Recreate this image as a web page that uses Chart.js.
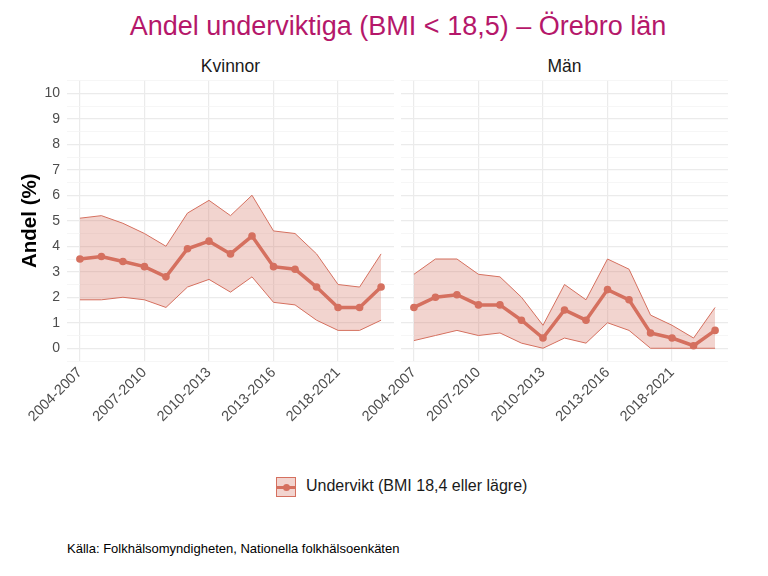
<!DOCTYPE html>
<html>
<head>
<meta charset="utf-8">
<script src="https://cdn.jsdelivr.net/npm/chart.js@4"></script>
<style>
    body { margin: 0; background: #fff; font-family: "Liberation Sans", Arial, sans-serif; }
    #wrap { position: relative; width: 768px; height: 576px; overflow: hidden; }
    .txt { position: absolute; white-space: nowrap; }
    #titel { left: 0; width: 796px; top: 11px; text-align: center; font-size: 27px; color: #B5176A; }
    .facett { top: 56px; font-size: 17.5px; color: #1a1a1a; text-align: center; }
    #legend { left: 276px; top: 477px; font-size: 16px; color: #1a1a1a; }
    #nyckel { position: absolute; left: 0; top: 0; width: 20px; height: 20px; box-sizing: border-box;
              border: 1px solid #D5705F; background: rgba(213,112,95,0.3); }
    #nyckel .linje { position: absolute; left: 0; right: 0; top: 7.5px; height: 3px; background: #D5705F; }
    #nyckel .punkt { position: absolute; left: 5.5px; top: 5.5px; width: 7px; height: 7px; border-radius: 50%; background: #D5705F; }
    #legend span { position: absolute; left: 30px; top: 0; }
    #kalla { left: 67px; top: 541px; font-size: 13px; color: #000; }
    canvas { position: absolute; }
</style>
</head>
<body>
<div id="wrap">
    <div id="titel" class="txt">Andel underviktiga (BMI &lt; 18,5) – Örebro län</div>
    <div class="txt facett" style="left:67px;width:327px;">Kvinnor</div>
    <div class="txt facett" style="left:401px;width:327px;">Män</div>
    <canvas id="vansterPanel" style="left:0;top:70px;" width="398" height="380"></canvas>
    <canvas id="hogerPanel" style="left:340px;top:70px;" width="398" height="380"></canvas>
    <div id="legend" class="txt">
        <div id="nyckel"><div class="linje"></div><div class="punkt"></div></div>
        <span>Undervikt (BMI 18,4 eller lägre)</span>
    </div>
    <div id="kalla" class="txt">Källa: Folkhälsomyndigheten, Nationella folkhälsoenkäten</div>
</div>
<script>
// Perioder (bara var tredje visas på axeln)
const perioder = ["2004-2007", "2005-2008", "2006-2009", "2007-2010", "2008-2011",
    "2009-2012", "2010-2013", "2011-2014", "2012-2015", "2013-2016",
    "2014-2017", "2015-2018", "2018-2021", "2019-2022", "2020-2023"];
const visadeIndex = [0, 3, 6, 9, 12];

// Kvinnor
const kvinnorAndel = [3.5, 3.6, 3.4, 3.2, 2.8, 3.9, 4.2, 3.7, 4.4, 3.2, 3.1, 2.4, 1.6, 1.6, 2.4];
const kvinnorLag   = [1.9, 1.9, 2.0, 1.9, 1.6, 2.4, 2.7, 2.2, 2.8, 1.8, 1.7, 1.1, 0.7, 0.7, 1.1];
const kvinnorHog   = [5.1, 5.2, 4.9, 4.5, 4.0, 5.3, 5.8, 5.2, 6.0, 4.6, 4.5, 3.7, 2.5, 2.4, 3.7];

// Män
const manAndel = [1.6, 2.0, 2.1, 1.7, 1.7, 1.1, 0.4, 1.5, 1.1, 2.3, 1.9, 0.6, 0.4, 0.1, 0.7];
const manLag   = [0.3, 0.5, 0.7, 0.5, 0.6, 0.2, 0.0, 0.4, 0.2, 1.0, 0.7, 0.0, 0.0, 0.0, 0.0];
const manHog   = [2.9, 3.5, 3.5, 2.9, 2.8, 2.0, 0.9, 2.5, 1.9, 3.5, 3.1, 1.3, 0.9, 0.4, 1.6];

const yEtiketter = [0, 1, 2, 3, 4, 5, 6, 7, 8, 9, 10];

const farg = "#D5705F";
const fyllning = "rgba(213, 112, 95, 0.3)";
const textFarg = "#4D4D4D";

function punkter(varden) {
    return varden.map((v, i) => ({ x: i, y: v }));
}

// En facett: bredd på y-axelns ruta styr var panelen börjar
function skapaPanel(canvas, andel, lag, hog, visaY, yBredd, hoger) {
    new Chart(canvas, {
        type: "line",
        data: {
            datasets: [
                {
                    data: punkter(hog),
                    borderColor: farg,
                    borderWidth: 1,
                    backgroundColor: fyllning,
                    pointRadius: 0,
                    fill: "+1",
                    order: 2
                },
                {
                    data: punkter(lag),
                    borderColor: farg,
                    borderWidth: 1,
                    pointRadius: 0,
                    fill: false,
                    order: 2
                },
                {
                    data: punkter(andel),
                    borderColor: farg,
                    backgroundColor: farg,
                    borderWidth: 3.5,
                    pointRadius: 3.8,
                    pointBorderWidth: 0,
                    fill: false,
                    order: 0
                }
            ]
        },
        options: {
            responsive: false,
            animation: false,
            layout: { padding: { top: 10.5, right: hoger, left: 0, bottom: 0 } },
            plugins: { legend: { display: false }, tooltip: { enabled: false } },
            scales: {
                x: {
                    type: "linear",
                    min: -0.6,
                    max: perioder.length - 1 + 0.6,
                    afterBuildTicks: (scale) => {
                        scale.ticks = visadeIndex.map(v => ({ value: v }));
                    },
                    afterFit: (scale) => {
                        scale.height = 89;
                        scale.paddingLeft = 0;
                        scale.paddingRight = 0;
                    },
                    ticks: {
                        autoSkip: false,
                        minRotation: 45,
                        maxRotation: 45,
                        padding: 3,
                        color: textFarg,
                        font: { family: "Liberation Sans", size: 14.5 },
                        callback: (v) => perioder[v]
                    },
                    grid: { color: "#EBEBEB", lineWidth: 1.2, drawTicks: false },
                    border: { display: false }
                },
                y: {
                    min: -0.5,
                    max: 10.5,
                    afterBuildTicks: (scale) => {
                        const t = [];
                        for (let v = -0.5; v <= 10.5; v += 0.5) t.push({ value: v });
                        scale.ticks = t;
                    },
                    afterFit: (scale) => {
                        scale.width = yBredd;
                        scale.paddingTop = 0;
                        scale.paddingBottom = 0;
                    },
                    ticks: {
                        display: visaY,
                        autoSkip: false,
                        padding: 7,
                        color: textFarg,
                        font: { family: "Liberation Sans", size: 14 },
                        callback: (v) => yEtiketter.includes(v) ? String(v) : ""
                    },
                    grid: {
                        drawTicks: false,
                        color: (c) => Number.isInteger(c.tick.value) ? "#EBEBEB" : "#F4F4F4",
                        lineWidth: (c) => Number.isInteger(c.tick.value) ? 1.3 : 0.8
                    },
                    border: { display: false },
                    title: {
                        display: visaY,
                        text: "Andel (%)",
                        color: "#000",
                        padding: { top: 18, bottom: 0 },
                        font: { family: "Liberation Sans", size: 20.5, weight: "bold" }
                    }
                }
            }
        }
    });
}

document.addEventListener("DOMContentLoaded", () => {
    skapaPanel(document.getElementById("vansterPanel"), kvinnorAndel, kvinnorLag, kvinnorHog, true, 67, 4);
    skapaPanel(document.getElementById("hogerPanel"), manAndel, manLag, manHog, false, 61, 10);
});
</script>
</body>
</html>
